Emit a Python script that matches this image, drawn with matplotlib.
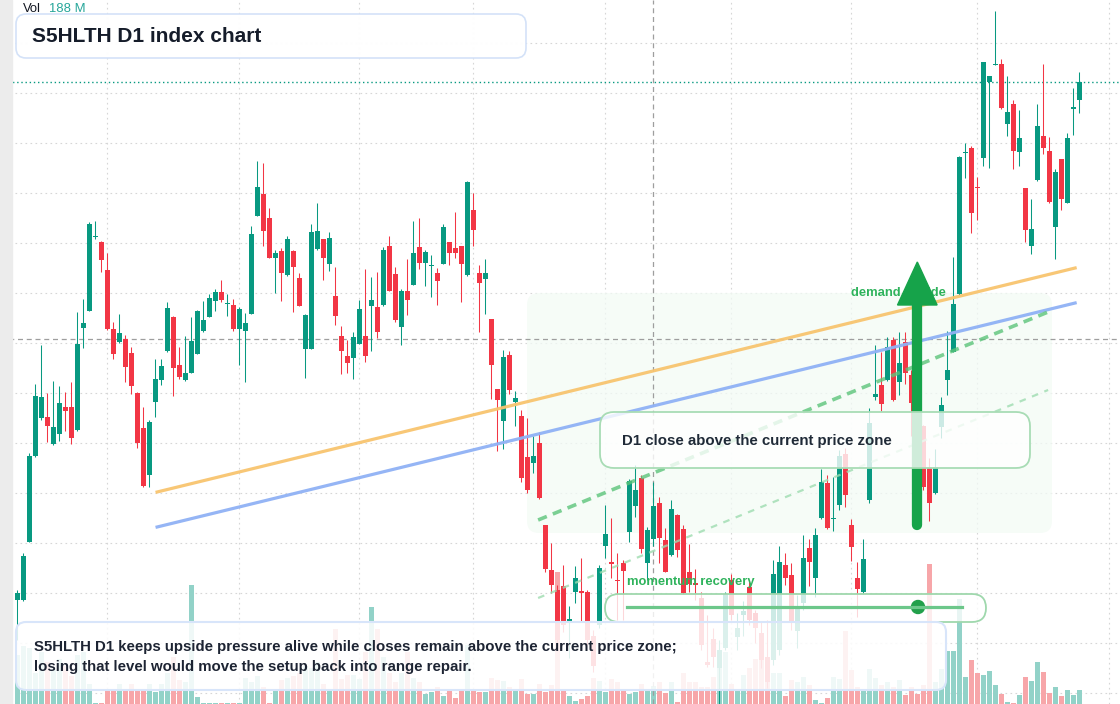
import numpy as np
import matplotlib.pyplot as plt
import matplotlib.transforms as mtransforms
from matplotlib.patches import FancyBboxPatch, Polygon, Circle, Rectangle

plt.rcParams['font.family'] = ['Liberation Sans', 'DejaVu Sans']

# daily OHLC (index points) and volume (millions)
opens = [1443, 1443, 1501, 1587, 1625, 1626, 1599, 1609, 1636, 1636,
         1613, 1715, 1732, 1806, 1801, 1773, 1714, 1701, 1704, 1690,
         1650, 1615, 1568, 1641, 1663, 1692, 1726, 1678, 1663, 1670,
         1689, 1712, 1726, 1742, 1751, 1739, 1738, 1714, 1712, 1729,
         1827, 1849, 1825, 1785, 1792, 1768, 1792, 1765, 1694, 1694,
         1794, 1804, 1779, 1747, 1707, 1687, 1685, 1699, 1707, 1737,
         1736, 1738, 1797, 1769, 1716, 1752, 1758, 1796, 1780, 1777,
         1770, 1779, 1801, 1795, 1797, 1768, 1833, 1770, 1764, 1724,
         1654, 1622, 1688, 1641, 1627, 1586, 1580, 1600, 1518, 1473,
         1453, 1457, 1422, 1451, 1452, 1451, 1407, 1418, 1497, 1481,
         1463, 1480, 1511, 1537, 1565, 1480, 1504, 1540, 1503, 1488,
         1528, 1514, 1471.5, 1460, 1445, 1381, 1404, 1375, 1395, 1463,
         1406, 1428, 1456, 1430, 1410, 1386, 1383, 1393, 1478, 1468,
         1412, 1440, 1495.5, 1465, 1525, 1560, 1524, 1538, 1589, 1518,
         1465, 1451, 1543, 1646, 1658, 1663, 1703, 1661, 1701, 1668,
         1648, 1617, 1576, 1550, 1616, 1663, 1691.5, 1749, 1890.5, 1895,
         1856, 1885, 1961, 1978.5, 1979, 1919, 1939, 1891, 1855, 1797,
         1863, 1907, 1892, 1816, 1884, 1840, 1934, 1943]
highs = [1453, 1490, 1590, 1659, 1698, 1650, 1662, 1657, 1651, 1661,
         1731, 1744, 1821, 1822, 1802, 1790, 1721, 1729, 1708, 1696,
         1651, 1636, 1623, 1684, 1684, 1741, 1727, 1696, 1707, 1726,
         1733, 1742, 1749, 1754, 1763, 1749, 1744, 1736, 1730, 1817,
         1882, 1880, 1835, 1793, 1795, 1807, 1793, 1770, 1729, 1819,
         1840, 1804, 1811, 1776, 1717, 1703, 1711, 1743, 1774, 1766,
         1771, 1796, 1807, 1776, 1754, 1784, 1822, 1825, 1793, 1788,
         1775, 1819, 1801.5, 1831, 1797.5, 1862, 1850, 1778, 1784, 1724.5,
         1654.5, 1693, 1692, 1652, 1633, 1625, 1607, 1611, 1518.5, 1500,
         1458, 1478, 1437, 1477, 1485, 1453, 1413, 1478, 1538, 1525,
         1490, 1483, 1564, 1578, 1568, 1516, 1561, 1546, 1515, 1543,
         1529, 1518, 1499, 1474, 1451, 1428, 1415, 1403, 1451, 1469,
         1430, 1442.5, 1463, 1433, 1421, 1423, 1483, 1497, 1490, 1480,
         1448, 1508, 1504, 1515, 1574, 1568, 1566, 1593, 1595, 1524,
         1481, 1504, 1635, 1698, 1691, 1706, 1706, 1711, 1711, 1673,
         1653, 1618, 1585, 1594, 1646, 1712, 1786, 1887.5, 1900, 1897,
         1866, 1981.5, 1967.5, 2032, 1984, 1967, 1943, 1933, 1855.5, 1844,
         1939, 1979, 1906, 1874, 1884.5, 1910, 1955, 1971]
lows = [1403, 1442, 1501, 1586, 1623, 1601, 1598, 1602, 1612, 1599,
        1612, 1695, 1732, 1804, 1771, 1713, 1684, 1700, 1661, 1649,
        1595, 1556, 1556, 1626, 1658, 1691, 1647, 1664, 1662, 1670,
        1689, 1711, 1726, 1732, 1741, 1727, 1712, 1678, 1661, 1729,
        1827, 1797, 1785, 1750, 1742, 1767, 1731, 1737, 1665, 1694,
        1793, 1763, 1772, 1718, 1669, 1670, 1664, 1699, 1681, 1692,
        1705, 1737, 1752, 1721, 1698, 1728, 1758, 1774, 1757, 1746,
        1738, 1779, 1778, 1785, 1741, 1767, 1797, 1711, 1729, 1644,
        1592, 1594, 1649, 1617, 1561, 1550, 1570, 1544, 1471, 1450,
        1398, 1411, 1385, 1440, 1422, 1398, 1371, 1415, 1485, 1465,
        1423, 1423, 1501, 1526, 1490, 1463, 1497, 1480, 1471, 1487,
        1486, 1449, 1451, 1443, 1393, 1376, 1376, 1337, 1393, 1423,
        1393, 1407, 1418, 1400, 1375, 1355, 1378, 1388, 1458, 1413,
        1395, 1433, 1457, 1446, 1524, 1514, 1512, 1533, 1536, 1482,
        1426, 1450, 1540, 1643, 1632, 1662, 1642, 1648, 1659, 1607,
        1603, 1553, 1522, 1549, 1605, 1648, 1691, 1748, 1865, 1810,
        1823, 1877, 1875, 1978, 1934, 1907, 1874, 1877, 1801, 1789,
        1862, 1889, 1840, 1784, 1833, 1840, 1908, 1930]
closes = [1450, 1487, 1587, 1647, 1646, 1617, 1616, 1640, 1632, 1605,
          1699, 1720, 1819, 1807.5, 1783, 1714, 1689, 1710, 1676, 1657,
          1600, 1557, 1621, 1664, 1677, 1735, 1675, 1666, 1670, 1702,
          1732, 1723, 1745, 1751, 1743, 1740, 1714, 1734, 1720, 1809,
          1856, 1812, 1785, 1790, 1770, 1804, 1776, 1737, 1728, 1811,
          1812, 1785, 1805, 1727, 1692, 1680, 1706, 1734, 1687, 1743,
          1711, 1793, 1752, 1723, 1752, 1743, 1790, 1780, 1791, 1777.5,
          1762, 1816, 1790, 1790, 1779, 1861, 1813, 1760, 1770, 1678,
          1643, 1686, 1653, 1645, 1565, 1553, 1587, 1545, 1474, 1458,
          1403, 1418, 1424, 1465, 1450, 1403, 1377, 1475, 1509, 1479,
          1462, 1472, 1562, 1553, 1494, 1513, 1537, 1505, 1471, 1534,
          1493, 1450, 1459, 1458, 1398, 1378, 1386, 1393, 1449.5, 1428,
          1415, 1432, 1423, 1415, 1383, 1361, 1469, 1481, 1465.5, 1420,
          1437, 1485, 1481, 1508.5, 1561, 1515, 1525.5, 1587, 1548, 1496,
          1454, 1484, 1620, 1649, 1639, 1696, 1643, 1680, 1670, 1640,
          1618, 1556, 1540, 1576, 1638, 1673, 1739.5, 1886, 1891.5, 1830,
          1855, 1981, 1967, 1979, 1935, 1931, 1892, 1905, 1813, 1814,
          1917, 1895, 1841, 1871, 1844, 1905, 1936, 1961]
volumes = [658, 779, 752, 416, 698, 564, 470, 604, 510, 376,
           658, 698, 269, 8, 8, 201, 175, 269, 201, 269,
           201, 175, 269, 161, 269, 416, 631, 322, 295, 1598,
           94, 8, 8, 8, 8, 8, 8, 8, 349, 295,
           376, 228, 13, 188, 322, 349, 376, 416, 510, 483,
           564, 269, 201, 1007, 336, 389, 389, 336, 698, 1303,
           1007, 631, 416, 295, 416, 698, 349, 295, 134, 161,
           228, 107, 175, 81, 201, 792, 188, 161, 161, 349,
           322, 309, 228, 188, 336, 134, 134, 269, 161, 255,
           1773, 175, 107, 40, 67, 107, 349, 309, 161, 336,
           295, 175, 134, 161, 269, 201, 242, 295, 148, 295,
           27, 416, 295, 295, 228, 228, 363, 510, 698, 269,
           201, 389, 483, 604, 698, 604, 416, 416, 107, 322,
           295, 363, 255, 54, 13, 81, 363, 336, 980, 457,
           228, 175, 470, 349, 255, 295, 228, 322, 121, 228,
           134, 255, 1880, 295, 470, 712, 712, 1410, 363, 591,
           416, 389, 443, 255, 134, 27, 13, 121, 363, 309,
           564, 430, 148, 228, 107, 188, 121, 188]

month_starts = [15, 37, 57, 76, 98, 119, 139, 160, 182]
ref_level = 1704
cursor_idx = 106

# drawings
trend_x = [23.3, 176.3]
orange_y = [1551, 1775]
blue_y = [1516, 1740]
channel_x = [86.8, 171.8]
channel_upper = [1523, 1731]
channel_lower = [1445, 1653]
arrow_idx = 150
arrow_from = 1518
arrow_to = 1781
arrow_head = 1738

up_col, dn_col = '#089981', '#f23645'
vup_col, vdn_col = '#92d2c8', '#f7a6a9'

W, H = 1120, 704
fig = plt.figure(figsize=(W / 100, H / 100), dpi=100)
fig.patch.set_facecolor('white')
# pixel coordinates, origin at top-left
px = mtransforms.Affine2D().scale(1 / W, -1 / H).translate(0, 1) + fig.transFigure

x = np.arange(len(closes))
o, h, l, c = map(np.array, (opens, highs, lows, closes))
up = c >= o

axv = fig.add_axes([0, 0, 1, 1])
ax = fig.add_axes([0, 0, 1, 1], sharex=axv)
axv.set_zorder(1)
ax.set_zorder(2)
ax.patch.set_visible(False)
for a in (ax, axv):
    a.axis('off')
ax.set_xlim(-2.883, 183.78)
ax.set_ylim(1339, 2043)
axv.set_ylim(0, 9455)

# grid
grid_kw = dict(color='#d6d6d6', lw=0.8, ls=(0, (1.5, 3)), zorder=0)
for m in month_starts:
    axv.axvline(m, **grid_kw)
ytrans = mtransforms.blended_transform_factory(axv.transAxes, ax.transData)
for lv in np.arange(1350, 2001, 50):
    axv.plot([0, 1], [lv, lv], transform=ytrans, **grid_kw)

# volume
axv.bar(x, volumes, width=0.78, color=np.where(up, vup_col, vdn_col), linewidth=0, zorder=2)

# green zone
axv.add_patch(FancyBboxPatch((527, 293), 525, 240, boxstyle='round,pad=0,rounding_size=12',
                             transform=px, fc='#f3fbf5', ec='none', alpha=0.75, zorder=3))

# candles
cols = np.where(up, up_col, dn_col)
ax.vlines(x, l, h, colors=cols, lw=0.75, zorder=3)
ax.bar(x, np.maximum(np.abs(c - o), 1.0), bottom=np.minimum(o, c), width=0.78,
       color=cols, linewidth=0, zorder=4)

# price / crosshair lines
ax.axhline(closes[-1], color='#089981', lw=1, ls=(0, (1, 2)), zorder=2)
ax.axhline(ref_level, color='#9e9e9e', lw=0.9, ls=(0, (4, 3)), zorder=2)
ax.axvline(cursor_idx, color='#9e9e9e', lw=0.9, ls=(0, (4, 3)), zorder=2)

# trend lines
ax.plot(trend_x, orange_y, color='#f8c46f', lw=2.3, alpha=0.95, zorder=5)
ax.plot(trend_x, blue_y, color='#8fb1f5', lw=2.3, alpha=0.95, zorder=5)
ax.plot(channel_x, channel_upper, color='#5cc47a', lw=2.6, alpha=0.8, ls=(0, (2.6, 1.8)), zorder=5)
ax.plot(channel_x, channel_lower, color='#9edcb0', lw=1.6, alpha=0.8, ls=(0, (3, 3)), zorder=5)

ax.text(851, 293, 'demand upside', transform=px, fontsize=9.4, fontweight='bold',
        color='#2fb35c', va='center', zorder=5.5)

# arrow
ax.plot([arrow_idx, arrow_idx], [arrow_from, arrow_head], color='#16a34a', lw=7.4,
        solid_capstyle='round', zorder=6)
ax.add_patch(Polygon([(arrow_idx - 3.3, arrow_head), (arrow_idx + 3.3, arrow_head),
                      (arrow_idx, arrow_to)], closed=True, color='#16a34a', zorder=6))

# overlay boxes and text
ov = fig.add_axes([0, 0, 1, 1])
ov.set_zorder(3)
ov.patch.set_visible(False)
ov.axis('off')

ov.add_patch(FancyBboxPatch((600, 412), 430, 56, boxstyle='round,pad=0,rounding_size=14',
                            transform=px, fc=(1, 1, 1, 0.8), ec='#a8dcb5', lw=1.3))
ov.text(622, 441, 'D1 close above the current price zone', transform=px, fontsize=10.8,
        fontweight='bold', color='#1f2a37', va='center')

ov.add_patch(FancyBboxPatch((605, 594), 381, 28, boxstyle='round,pad=0,rounding_size=14',
                            transform=px, fc=(1, 1, 1, 0.8), ec='#9fd8ad', lw=1.3))
ov.plot([627, 962], [607, 607], transform=px, color='#6cc78a', lw=2.3)
ov.add_patch(Circle((918, 607), 6.5, transform=px, color='#22a04b'))
ov.text(627, 582, 'momentum recovery', transform=px, fontsize=9.4, fontweight='bold',
        color='#2fb35c', va='center')

ov.add_patch(FancyBboxPatch((16, 622), 930, 68, boxstyle='round,pad=0,rounding_size=10',
                            transform=px, fc=(1, 1, 1, 0.86), ec='#d8e5fa', lw=1.5))
ov.text(34, 647, 'S5HLTH D1 keeps upside pressure alive while closes remain above the current price zone;',
        transform=px, fontsize=10.8, fontweight='bold', color='#1d2433', va='center')
ov.text(34, 667, 'losing that level would move the setup back into range repair.',
        transform=px, fontsize=10.8, fontweight='bold', color='#1d2433', va='center')

ov.add_patch(FancyBboxPatch((16, 14), 510, 44, boxstyle='round,pad=0,rounding_size=10',
                            transform=px, fc=(1, 1, 1, 0.96), ec='#d4e2f8', lw=1.2))
ov.text(32, 36, 'S5HLTH D1 index chart', transform=px, fontsize=15, fontweight='bold',
        color='#151c2a', va='center')

ov.text(23, 9, 'Vol', transform=px, fontsize=9.4, color='#131722', va='center')
ov.text(49, 9, f'{volumes[-1]} M', transform=px, fontsize=9.4, color='#26a69a', va='center')

ov.add_patch(Rectangle((0, 0), 12, H, transform=px, color='#ececec'))

fig.savefig('out.png', dpi=100)
